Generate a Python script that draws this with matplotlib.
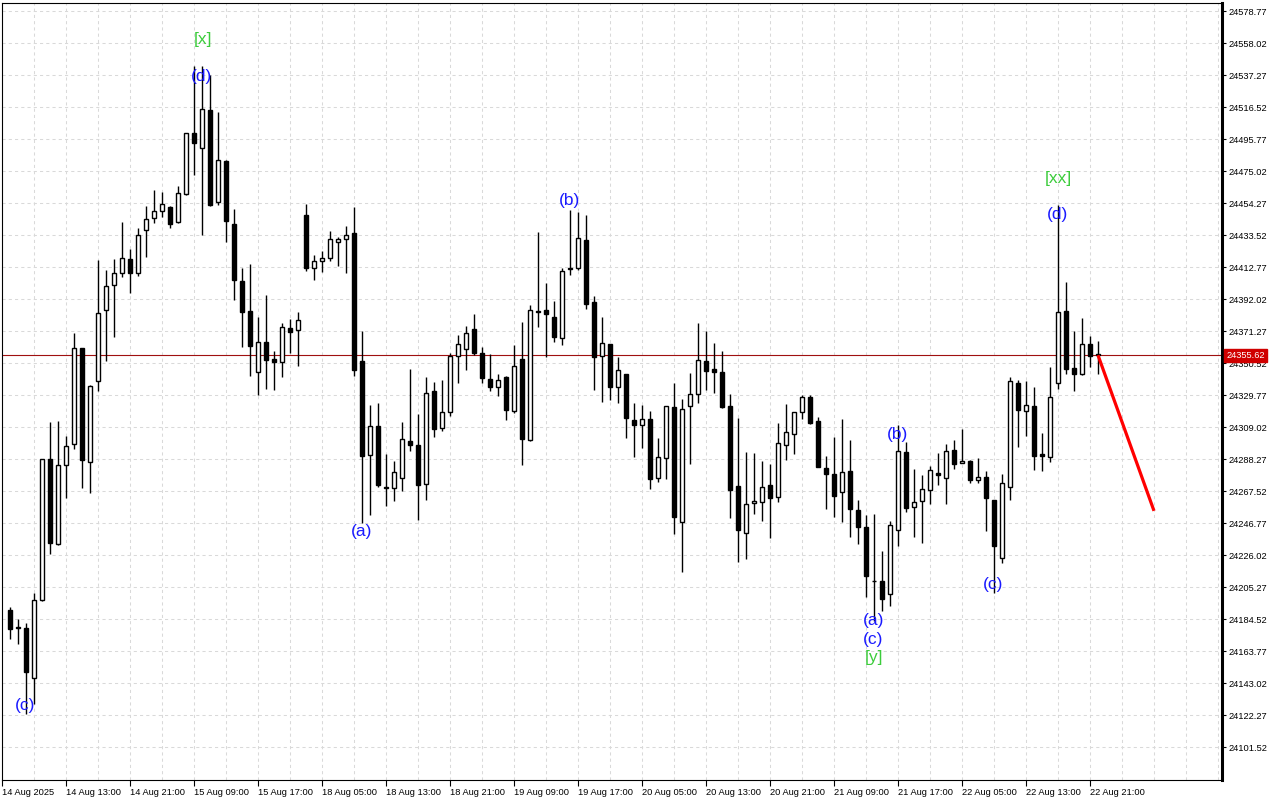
import matplotlib
matplotlib.use('Agg')
import matplotlib.pyplot as plt
from matplotlib.patches import Rectangle

# ---------------- data ----------------
opens = [24190.7, 24179.2, 24179.0, 24146.3, 24197.2, 24288.6, 24233.2, 24284.4, 24298.1, 24360.0,
         24286.2, 24338.9, 24384.8, 24401.4, 24408.9, 24418.1, 24409.2, 24436.6, 24444.6, 24449.1,
         24451.7, 24441.9, 24460.1, 24499.7, 24489.9, 24514.8, 24454.7, 24481.7, 24440.9, 24403.9,
         24384.5, 24344.7, 24364.1, 24353.3, 24351.2, 24373.4, 24371.9, 24446.7, 24411.9, 24416.7,
         24418.6, 24429.0, 24430.9, 24435.0, 24351.8, 24290.9, 24309.7, 24270.3, 24269.5, 24275.9,
         24300.2, 24297.4, 24272.1, 24332.4, 24308.1, 24318.7, 24354.8, 24359.6, 24372.8, 24357.0,
         24340.1, 24335.2, 24341.4, 24319.4, 24353.1, 24300.4, 24384.3, 24385.1, 24380.6, 24366.7,
         24412.1, 24412.1, 24430.5, 24390.1, 24355.3, 24362.6, 24334.7, 24343.2, 24313.3, 24310.1,
         24314.2, 24275.7, 24288.7, 24321.8, 24247.2, 24322.4, 24330.2, 24351.6, 24346.4, 24344.5,
         24322.4, 24270.5, 24240.1, 24259.7, 24260.2, 24271.2, 24263.4, 24297.1, 24304.3, 24318.5,
         24328.3, 24312.7, 24282.2, 24278.3, 24266.7, 24280.5, 24255.0, 24244.2, 24209.2, 24209.2,
         24200.5, 24242.0, 24292.8, 24257.2, 24260.8, 24268.2, 24279.2, 24275.9, 24294.3, 24285.7,
         24287.2, 24274.6, 24276.8, 24261.7, 24224.1, 24270.3, 24337.6, 24319.6, 24322.6, 24291.5,
         24289.6, 24337.3, 24384.0, 24347.1, 24343.2, 24362.8, 24356.3]
highs = [24192.1, 24184.4, 24182.3, 24201.7, 24288.6, 24312.4, 24313.0, 24303.5, 24369.9, 24360.5,
         24336.2, 24417.2, 24410.7, 24418.1, 24441.9, 24424.6, 24438.0, 24452.3, 24462.8, 24461.6,
         24452.1, 24465.1, 24500.0, 24542.9, 24542.9, 24537.5, 24513.5, 24482.0, 24450.6, 24412.1,
         24414.7, 24380.6, 24394.6, 24358.5, 24376.4, 24379.2, 24383.8, 24453.8, 24420.8, 24423.4,
         24436.3, 24432.2, 24439.1, 24451.5, 24371.5, 24323.5, 24324.8, 24291.7, 24287.2, 24312.5,
         24346.9, 24317.7, 24341.2, 24338.0, 24339.7, 24357.0, 24368.7, 24374.3, 24382.5, 24360.9,
         24356.4, 24343.6, 24341.9, 24362.0, 24376.9, 24388.3, 24435.3, 24402.4, 24390.9, 24412.1,
         24449.9, 24448.2, 24446.3, 24394.2, 24380.1, 24363.0, 24354.2, 24343.5, 24324.4, 24323.1,
         24319.2, 24301.7, 24322.6, 24337.5, 24327.2, 24344.0, 24376.5, 24371.3, 24363.5, 24358.3,
         24330.2, 24314.9, 24292.6, 24291.9, 24287.2, 24285.0, 24311.4, 24323.9, 24318.7, 24329.8,
         24329.8, 24315.3, 24290.0, 24302.3, 24314.2, 24300.6, 24261.7, 24251.7, 24252.6, 24228.4,
         24247.9, 24310.3, 24299.5, 24282.0, 24278.1, 24283.9, 24292.2, 24298.2, 24300.8, 24307.9,
         24287.5, 24289.1, 24280.7, 24262.0, 24278.5, 24341.4, 24339.7, 24338.8, 24335.2, 24305.3,
         24348.1, 24453.0, 24402.8, 24371.3, 24379.7, 24368.0, 24364.8]
lows = [24171.6, 24168.6, 24122.8, 24129.3, 24196.5, 24227.0, 24232.8, 24263.3, 24294.6, 24269.2,
        24266.3, 24332.4, 24352.0, 24367.5, 24406.2, 24395.8, 24406.8, 24419.6, 24441.2, 24445.2,
        24437.8, 24441.5, 24459.2, 24472.6, 24433.3, 24452.1, 24453.0, 24428.8, 24391.2, 24360.7,
        24341.9, 24329.5, 24333.7, 24332.8, 24341.2, 24357.0, 24348.4, 24410.0, 24404.1, 24409.3,
        24416.4, 24413.6, 24408.9, 24341.9, 24247.0, 24251.7, 24270.1, 24257.6, 24260.8, 24267.3,
        24293.2, 24248.9, 24261.5, 24302.3, 24306.2, 24315.9, 24337.6, 24346.2, 24355.5, 24337.6,
        24332.2, 24328.9, 24313.3, 24318.1, 24284.6, 24299.7, 24373.6, 24354.4, 24363.9, 24362.4,
        24407.8, 24410.6, 24385.5, 24333.2, 24325.0, 24326.5, 24324.8, 24302.1, 24289.8, 24295.6,
        24269.0, 24273.6, 24275.5, 24239.8, 24215.2, 24285.0, 24324.8, 24333.0, 24331.3, 24321.5,
        24250.2, 24221.7, 24223.2, 24252.4, 24248.3, 24236.8, 24260.6, 24287.4, 24291.5, 24314.4,
        24310.8, 24283.0, 24255.6, 24250.9, 24247.6, 24237.5, 24233.4, 24199.0, 24183.0, 24189.7,
        24193.2, 24231.6, 24253.7, 24237.5, 24233.6, 24258.9, 24271.2, 24259.3, 24281.6, 24285.5,
        24272.5, 24272.7, 24241.8, 24201.4, 24220.8, 24261.5, 24295.8, 24303.0, 24280.9, 24280.3,
        24286.3, 24333.4, 24343.6, 24332.6, 24343.0, 24348.1, 24343.2]
closes = [24178.4, 24178.8, 24150.2, 24197.2, 24288.0, 24234.1, 24284.7, 24296.9, 24360.6, 24287.7,
          24335.9, 24383.0, 24400.8, 24408.6, 24418.4, 24409.2, 24433.6, 24443.7, 24449.1, 24453.8,
          24440.4, 24460.8, 24499.7, 24493.0, 24515.2, 24453.2, 24482.1, 24442.4, 24404.1, 24383.4,
          24361.9, 24364.1, 24352.5, 24351.2, 24373.9, 24370.6, 24378.4, 24411.9, 24416.9, 24418.6,
          24430.9, 24430.9, 24433.5, 24345.8, 24290.0, 24309.7, 24271.2, 24269.5, 24279.8, 24301.5,
          24297.1, 24271.2, 24331.3, 24307.7, 24318.7, 24355.3, 24363.1, 24369.9, 24356.8, 24340.6,
          24335.0, 24339.3, 24319.8, 24348.6, 24301.2, 24384.9, 24383.8, 24382.3, 24367.4, 24410.4,
          24411.5, 24431.6, 24388.6, 24354.2, 24363.5, 24335.2, 24345.8, 24314.6, 24310.5, 24314.0,
          24275.5, 24289.3, 24322.4, 24250.9, 24320.5, 24330.2, 24352.2, 24345.1, 24344.5, 24322.2,
          24268.4, 24242.0, 24258.9, 24260.8, 24270.3, 24262.8, 24298.4, 24305.6, 24318.5, 24328.3,
          24311.8, 24283.3, 24278.3, 24264.1, 24279.6, 24255.6, 24244.0, 24212.6, 24208.9, 24197.7,
          24245.3, 24293.2, 24256.3, 24260.4, 24268.8, 24281.1, 24277.7, 24293.4, 24284.8, 24287.0,
          24274.4, 24276.6, 24262.8, 24231.6, 24272.5, 24338.6, 24320.0, 24323.3, 24290.2, 24290.2,
          24328.5, 24383.4, 24346.8, 24343.2, 24362.6, 24354.8, 24355.62]

time_labels = ["14 Aug 2025", "14 Aug 13:00", "14 Aug 21:00", "15 Aug 09:00", "15 Aug 17:00",
               "18 Aug 05:00", "18 Aug 13:00", "18 Aug 21:00", "19 Aug 09:00", "19 Aug 17:00",
               "20 Aug 05:00", "20 Aug 13:00", "20 Aug 21:00", "21 Aug 09:00", "21 Aug 17:00",
               "22 Aug 05:00", "22 Aug 13:00", "22 Aug 21:00"]
time_label_index = [-1 + 8 * i for i in range(len(time_labels))]

price_ticks = [24578.77, 24558.02, 24537.27, 24516.52, 24495.77, 24475.02, 24454.27, 24433.52,
               24412.77, 24392.02, 24371.27, 24350.52, 24329.77, 24309.02, 24288.27, 24267.52,
               24246.77, 24226.02, 24205.27, 24184.52, 24163.77, 24143.02, 24122.27, 24101.52]

last_price = 24355.62
projection_index = [136, 143]
projection_price = [24355.62, 24254.7]

wave_texts = ["(c)", "[x]", "(d)", "(a)", "(b)", "(b)", "(a)", "(c)", "[y]", "(c)", "[xx]", "(d)"]
wave_index = [1.9, 24.1, 24.0, 44.0, 69.9, 111.0, 107.9, 107.9, 108.0, 122.9, 131.0, 130.9]
wave_price = [24128.8, 24560.6, 24536.6, 24241.6, 24455.6, 24304.5, 24183.3, 24171.6, 24159.3,
              24207.2, 24470.5, 24447.1]
wave_kind = ["minor", "major", "minor", "minor", "minor", "minor", "minor", "minor", "major",
             "minor", "major", "minor"]

# ---------------- plot ----------------
W, H = 1280, 800
fig = plt.figure(figsize=(W / 100, H / 100), dpi=100)
ax = fig.add_axes([2 / W, 20 / H, 1220 / W, 777 / H])

ax.set_xlim(-1, 151.5)
ax.set_ylim(24080.2, 24583.96)

# grid
grid_kw = dict(color='#d9d9d9', lw=0.75, ls=(0, (3, 3)), zorder=0)
for p in price_ticks:
    ax.axhline(p, **grid_kw)
for gx in range(-1, 152, 4):
    ax.axvline(gx, **grid_kw)

# candles
idx = list(range(len(opens)))
ax.vlines(idx, lows, highs, color='black', lw=1.0, zorder=2)
bw = 0.6
for i, o, c in zip(idx, opens, closes):
    bottom = min(o, c)
    height = max(abs(c - o), 0.5)
    face = 'white' if c >= o else 'black'
    ax.add_patch(Rectangle((i - bw / 2, bottom), bw, height, facecolor=face,
                           edgecolor='black', lw=1.0, zorder=3))

# last price line
ax.axhline(last_price, color='#a01010', lw=0.8, zorder=1)

# projection
ax.plot(projection_index, projection_price, color='#ff0000', lw=2.3, zorder=4,
        solid_capstyle='butt')

# wave labels
colors = {"minor": "#1a1aff", "major": "#3ccc3c"}
for t, xi, yp, k in zip(wave_texts, wave_index, wave_price, wave_kind):
    ax.text(xi, yp, t, color=colors[k], fontsize=12.5, family='Liberation Sans',
            ha='center', va='center', zorder=5)

# axes styling
for s in ['left', 'top', 'bottom']:
    ax.spines[s].set_linewidth(0.8)
    ax.spines[s].set_color('black')
ax.spines['right'].set_linewidth(2.2)
ax.spines['right'].set_color('black')

ax.yaxis.tick_right()
ax.set_yticks(price_ticks)
ax.set_yticklabels([f"{p:.2f}" for p in price_ticks])
ax.tick_params(axis='y', direction='out', length=3, width=0.8, pad=1.5,
               labelsize=6.7, colors='black')
ax.set_xticks(time_label_index)
ax.set_xticklabels(time_labels, ha='left')
ax.tick_params(axis='x', direction='out', length=4, width=0.8, pad=1.5,
               labelsize=6.7, colors='black')
for lbl in ax.get_xticklabels() + ax.get_yticklabels():
    lbl.set_family('Liberation Sans')
for lbl in ax.get_xticklabels():
    lbl.set_x(lbl.get_position()[0])

# price box on right axis
ax.annotate(f"{last_price:.2f}", xy=(1.0, last_price), xycoords=('axes fraction', 'data'),
            xytext=(3, 0), textcoords='offset points', ha='left', va='center',
            fontsize=6.7, family='Liberation Sans', color='white',
            bbox=dict(boxstyle='square,pad=0.2', facecolor='#d00000', edgecolor='#d00000'),
            annotation_clip=False, zorder=6)

fig.savefig('out.png', dpi=100)
